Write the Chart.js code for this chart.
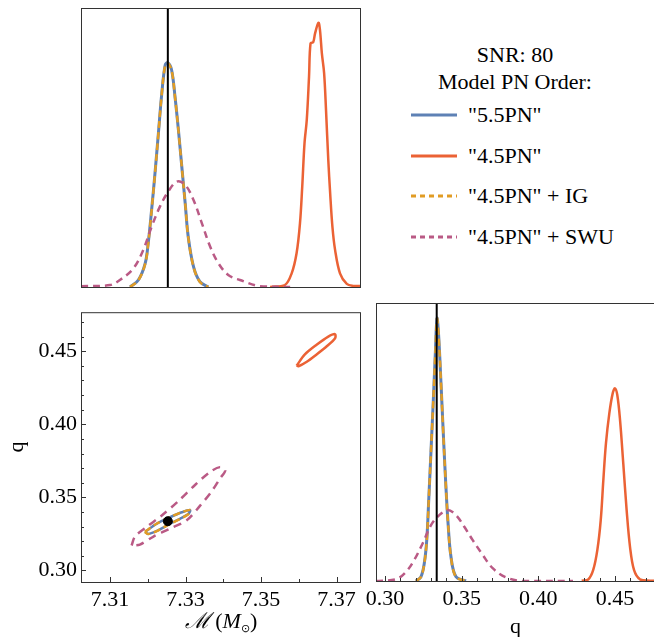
<!DOCTYPE html>
<html>
<head>
<meta charset="utf-8">
<script src="https://cdn.jsdelivr.net/npm/chart.js@4.4.1/dist/chart.umd.min.js"></script>
<style>
  html, body { margin: 0; padding: 0; background: #fff; overflow: hidden; }
  #wrap { position: relative; width: 654px; height: 637px; overflow: hidden;
          font-family: "Liberation Serif", "Times New Roman", serif; color: #000; }
  #wrap canvas { position: absolute; }
  #cTop { left: 0; top: 0; }
  #cJoint { left: 0; top: 295px; }
  #cQ { left: 360px; top: 295px; }
  .ttl { position: absolute; left: 395px; width: 240px; text-align: center; font-size: 22px; line-height: 26px; }
  .row { position: absolute; left: 411px; height: 26px; font-size: 22px; line-height: 26px; white-space: nowrap; }
  .row svg { position: absolute; left: 0; top: 11px; }
  .row span { position: absolute; left: 57px; top: 0; }
  #xlab { position: absolute; left: 0; width: 442px; top: 608px; text-align: center; font-size: 22px; line-height: 26px; }
  #xlab sub { font-size: 11px; vertical-align: -4px; }
</style>
</head>
<body>
<div id="wrap">
  <canvas id="cTop" width="370" height="295"></canvas>
  <canvas id="cJoint" width="370" height="345"></canvas>
  <canvas id="cQ" width="310" height="345"></canvas>

  <div class="ttl" style="top:42px">SNR: 80</div>
  <div class="ttl" style="top:69px">Model PN Order:</div>
  <div id="legend"></div>

  <div id="xlab"><span style="font-family:'DejaVu Serif',serif;font-style:italic">ℳ</span> (<i>M</i><sub>⊙</sub>)</div>
</div>

<script>
// series names and colours
const seriesNames = ['"5.5PN"', '"4.5PN"', '"4.5PN" + IG', '"4.5PN" + SWU'];
const seriesColors = ['#5E81B5', '#EB6235', '#E19C24', '#BA5A85'];

// injected values
const trueChirpMass = 7.3253;
const trueQ = 0.3337;

// axis ranges and ticks
const mRange = [7.3023, 7.3762];
const qRange2D = [0.2921, 0.4767];
const qRangeMarg = [0.2941, 0.4761];
const mTicks = [7.31, 7.32, 7.33, 7.34, 7.35, 7.36, 7.37];
const mTickLabels = [7.31, 7.33, 7.35, 7.37];
const qTicks = [0.30, 0.31, 0.32, 0.33, 0.34, 0.35, 0.36, 0.37, 0.38, 0.39, 0.40, 0.41, 0.42, 0.43, 0.44, 0.45, 0.46, 0.47];
const qTickLabels = [0.30, 0.35, 0.40, 0.45];

// chirp mass marginals (density, arbitrary units)
const m55X = [7.3153, 7.3175, 7.3193, 7.3201, 7.3210, 7.3219, 7.3228, 7.3237, 7.3246, 7.3253, 7.3263, 7.3272, 7.3281, 7.3290, 7.3299, 7.3307, 7.3321, 7.3338, 7.3360];
const m55Y = [0, 0.025, 0.085, 0.157, 0.276, 0.408, 0.551, 0.694, 0.796, 0.804, 0.778, 0.682, 0.563, 0.431, 0.300, 0.180, 0.073, 0.019, 0];
const mIGY = [0, 0.024, 0.083, 0.155, 0.274, 0.407, 0.550, 0.693, 0.795, 0.803, 0.777, 0.681, 0.562, 0.430, 0.299, 0.179, 0.072, 0.018, 0];
const m45X = [7.3524, 7.3563, 7.3581, 7.3594, 7.3603, 7.3609, 7.3615, 7.3621, 7.3627, 7.3631, 7.3638, 7.3643, 7.3652, 7.3656, 7.3661, 7.3667, 7.3672, 7.3678, 7.3683, 7.3689, 7.3696, 7.3709, 7.3727, 7.3744, 7.3762];
const m45Y = [0, 0.007, 0.049, 0.121, 0.228, 0.360, 0.515, 0.599, 0.754, 0.873, 0.877, 0.909, 0.947, 0.921, 0.837, 0.766, 0.634, 0.455, 0.335, 0.215, 0.133, 0.049, 0.011, 0.004, 0.004];
const mSWUX = [7.3023, 7.3100, 7.3126, 7.3162, 7.3188, 7.3210, 7.3232, 7.3254, 7.3277, 7.3299, 7.3321, 7.3343, 7.3365, 7.3387, 7.3413, 7.3444, 7.3497, 7.3577];
const mSWUY = [0.003, 0.007, 0.025, 0.067, 0.133, 0.216, 0.288, 0.342, 0.378, 0.366, 0.312, 0.229, 0.145, 0.085, 0.043, 0.025, 0.003, 0];

// mass ratio marginals
const q55X = [0.3202, 0.3234, 0.3256, 0.3272, 0.3285, 0.3300, 0.3315, 0.3328, 0.3339, 0.3350, 0.3365, 0.3380, 0.3396, 0.3411, 0.3430, 0.3463, 0.3528];
const q55Y = [0, 0.015, 0.064, 0.147, 0.291, 0.471, 0.651, 0.819, 0.945, 0.879, 0.711, 0.531, 0.351, 0.208, 0.087, 0.015, 0];
const qIGY = [0, 0.014, 0.063, 0.146, 0.290, 0.470, 0.650, 0.818, 0.944, 0.878, 0.710, 0.530, 0.350, 0.207, 0.086, 0.014, 0];
const q45X = [0.4283, 0.4326, 0.4358, 0.4385, 0.4407, 0.4424, 0.4441, 0.4463, 0.4485, 0.4500, 0.4515, 0.4533, 0.4554, 0.4576, 0.4598, 0.4624, 0.4663, 0.4728, 0.4767];
const q45Y = [0.001, 0.006, 0.040, 0.112, 0.219, 0.363, 0.495, 0.603, 0.675, 0.693, 0.669, 0.579, 0.423, 0.255, 0.123, 0.040, 0.006, 0.001, 0.001];
const qSWUX = [0.2941, 0.3071, 0.3137, 0.3191, 0.3246, 0.3300, 0.3354, 0.3409, 0.3463, 0.3517, 0.3572, 0.3637, 0.3702, 0.3789, 0.3898, 0.4226];
const qSWUY = [0, 0.006, 0.033, 0.076, 0.136, 0.201, 0.237, 0.255, 0.237, 0.195, 0.147, 0.094, 0.046, 0.013, 0, 0];

// joint contours (chirp mass, q)
const c55M = [7.3193, 7.3224, 7.3259, 7.3290, 7.3312, 7.3307, 7.3285, 7.3259, 7.3228, 7.3201, 7.3193];
const c55Q = [0.3265, 0.3320, 0.3364, 0.3398, 0.3413, 0.3386, 0.3353, 0.3320, 0.3276, 0.3250, 0.3265];
const cIGM = [7.3192, 7.3224, 7.3259, 7.3290, 7.3313, 7.3307, 7.3285, 7.3259, 7.3228, 7.3200, 7.3192];
const cIGQ = [0.3264, 0.3321, 0.3365, 0.3399, 0.3414, 0.3385, 0.3352, 0.3319, 0.3275, 0.3249, 0.3264];
const c45M = [7.3594, 7.3616, 7.3647, 7.3678, 7.3696, 7.3696, 7.3674, 7.3647, 7.3621, 7.3599, 7.3594];
const c45Q = [0.4401, 0.4478, 0.4544, 0.4600, 0.4617, 0.4589, 0.4534, 0.4478, 0.4428, 0.4397, 0.4401];
const cSWUM = [7.3157, 7.3166, 7.3197, 7.3237, 7.3281, 7.3325, 7.3365, 7.3391, 7.3405, 7.3391, 7.3369, 7.3338, 7.3303, 7.3259, 7.3215, 7.3179, 7.3157];
const cSWUQ = [0.3171, 0.3232, 0.3298, 0.3376, 0.3475, 0.3585, 0.3674, 0.3707, 0.3684, 0.3629, 0.3541, 0.3442, 0.3343, 0.3287, 0.3232, 0.3177, 0.3171];

const pts = (xs, ys) => xs.map((x, i) => ({ x: x, y: ys[i] }));
const FONT = { family: "'Liberation Serif', 'Times New Roman', serif", size: 22 };

// frame round the plot area with inward tick marks
const framePlugin = {
  id: 'frame',
  afterDatasetsDraw(chart, args, opts) {
    const { ctx, chartArea: a } = chart;
    ctx.save();
    ctx.strokeStyle = '#333';
    ctx.lineWidth = 1;
    ctx.strokeRect(a.left + 0.5, a.top + 0.5, a.right - a.left, a.bottom - a.top);
    if (opts.xTicks) {
      const s = chart.scales.x;
      s.ticks.forEach(t => {
        const px = Math.round(s.getPixelForValue(t.value)) + 0.5;
        const len = t.label ? 5 : 3;
        ctx.beginPath(); ctx.moveTo(px, a.bottom); ctx.lineTo(px, a.bottom - len); ctx.stroke();
      });
    }
    if (opts.yTicks) {
      const s = chart.scales.y;
      s.ticks.forEach(t => {
        const py = Math.round(s.getPixelForValue(t.value)) + 0.5;
        const len = t.label ? 5 : 3;
        ctx.beginPath(); ctx.moveTo(a.left, py); ctx.lineTo(a.left + len, py); ctx.stroke();
      });
    }
    ctx.restore();
  }
};

function curve(data, color, dash, width, tension) {
  return {
    data: data, showLine: true, borderColor: color, backgroundColor: color,
    borderWidth: width || 2.5, borderDash: dash || [], tension: tension === undefined ? 0.35 : tension,
    pointRadius: 0, fill: false
  };
}

function tickList(list) {
  return scale => { scale.ticks = list.map(v => ({ value: v })); };
}
function tickLabel(labels) {
  return v => labels.some(l => Math.abs(l - v) < 1e-6) ? v.toFixed(2) : '';
}

const common = {
  responsive: false,
  animation: false,
  events: [],
  plugins: { legend: { display: false }, tooltip: { enabled: false } }
};

// top panel: chirp mass marginal
new Chart(document.getElementById('cTop'), {
  type: 'scatter',
  data: {
    datasets: [
      curve([{ x: trueChirpMass, y: 0 }, { x: trueChirpMass, y: 1 }], '#000', [], 2, 0),
      curve(pts(mSWUX, mSWUY), seriesColors[3], [7, 5]),
      curve(pts(m55X, mIGY), seriesColors[2], [7, 4]),
      curve(pts(m55X, m55Y), seriesColors[0], [], 3),
      curve(pts(m45X, m45Y), seriesColors[1], [], 2.5)
    ]
  },
  options: Object.assign({}, common, {
    layout: { padding: { left: 81, right: 10, top: 8, bottom: 8 } },
    scales: {
      x: { type: 'linear', min: mRange[0], max: mRange[1], display: false },
      y: { type: 'linear', min: 0, max: 1, display: false }
    },
    plugins: Object.assign({}, common.plugins, { frame: {} })
  }),
  plugins: [framePlugin]
});

// joint panel: chirp mass vs q contours
new Chart(document.getElementById('cJoint'), {
  type: 'scatter',
  data: {
    datasets: [
      { data: [{ x: trueChirpMass, y: trueQ }], pointRadius: 4.5, backgroundColor: '#000', borderColor: '#000', showLine: false },
      curve(pts(cSWUM, cSWUQ), seriesColors[3], [8, 6], 2.5, 0.3),
      curve(pts(cIGM, cIGQ), seriesColors[2], [7, 4], 2.5, 0.3),
      curve(pts(c55M, c55Q), seriesColors[0], [], 2.5, 0.3),
      curve(pts(c45M, c45Q), seriesColors[1], [], 2.5, 0.3)
    ]
  },
  options: Object.assign({}, common, {
    layout: { padding: { left: 0, right: 10, top: 8, bottom: 0 } },
    scales: {
      x: {
        type: 'linear', min: mRange[0], max: mRange[1],
        afterBuildTicks: tickList(mTicks),
        afterFit: s => { s.height = 58; },
        grid: { display: false, drawTicks: false }, border: { display: false },
        ticks: { font: FONT, color: '#000', padding: 5, maxRotation: 0, autoSkip: false, callback: tickLabel(mTickLabels) }
      },
      y: {
        type: 'linear', min: qRange2D[0], max: qRange2D[1],
        afterBuildTicks: tickList(qTicks),
        afterFit: s => { s.width = 81; },
        grid: { display: false, drawTicks: false }, border: { display: false },
        ticks: { font: FONT, color: '#000', padding: 4, autoSkip: false, callback: tickLabel(qTickLabels) },
        title: { display: true, text: 'q', font: FONT, color: '#000', padding: { top: 4, bottom: 0 } }
      }
    },
    plugins: Object.assign({}, common.plugins, { frame: { xTicks: true, yTicks: true } })
  }),
  plugins: [framePlugin]
});

// right panel: q marginal
new Chart(document.getElementById('cQ'), {
  type: 'scatter',
  data: {
    datasets: [
      curve([{ x: trueQ, y: 0 }, { x: trueQ, y: 1 }], '#000', [], 2, 0),
      curve(pts(qSWUX, qSWUY), seriesColors[3], [7, 5]),
      curve(pts(q55X, qIGY), seriesColors[2], [7, 4]),
      curve(pts(q55X, q55Y), seriesColors[0], [], 3),
      curve(pts(q45X, q45Y), seriesColors[1], [], 2.5)
    ]
  },
  options: Object.assign({}, common, {
    layout: { padding: { left: 16, right: 15, top: 8, bottom: 0 } },
    scales: {
      x: {
        type: 'linear', min: qRangeMarg[0], max: qRangeMarg[1],
        afterBuildTicks: tickList(qTicks),
        afterFit: s => { s.height = 59; },
        grid: { display: false, drawTicks: false }, border: { display: false },
        ticks: { font: FONT, color: '#000', padding: 5, maxRotation: 0, autoSkip: false, callback: tickLabel(qTickLabels) },
        title: { display: true, text: 'q', font: FONT, color: '#000', padding: { top: 0, bottom: 0 } }
      },
      y: { type: 'linear', min: 0, max: 1, display: false }
    },
    plugins: Object.assign({}, common.plugins, { frame: { xTicks: true } })
  }),
  plugins: [framePlugin]
});

// legend
const legendTops = [102, 143, 183, 224];
const legendDash = ['', '', '5 4', '5 4'];
document.getElementById('legend').innerHTML = seriesNames.map((name, i) =>
  `<div class="row" style="top:${legendTops[i]}px">
     <svg width="46" height="4"><line x1="0" y1="2" x2="46" y2="2" stroke="${seriesColors[i]}" stroke-width="3" stroke-dasharray="${legendDash[i]}"/></svg>
     <span>${name}</span>
   </div>`).join('');
</script>
</body>
</html>
